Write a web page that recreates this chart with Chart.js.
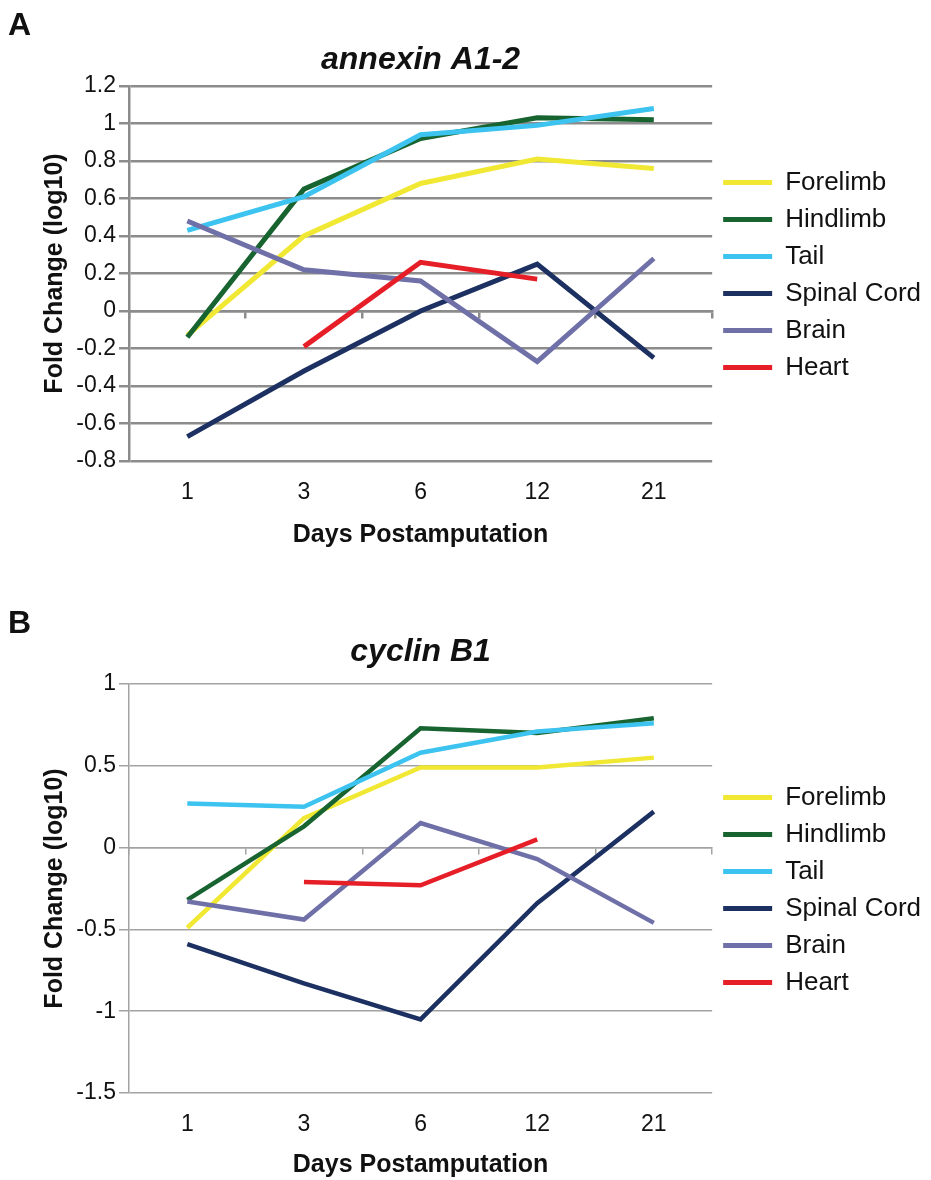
<!DOCTYPE html>
<html>
<head>
<meta charset="utf-8">
<title>annexin A1-2 / cyclin B1</title>
<script src="https://cdn.jsdelivr.net/npm/chart.js@4.4.1/dist/chart.umd.min.js"></script>
<style>
  html, body { margin: 0; padding: 0; background: #fff; overflow: hidden; }
  #page { position: relative; width: 931px; height: 1180px; font-family: "Liberation Sans", Arial, sans-serif; }
  .chart-box { position: absolute; left: 0; width: 931px; }
  .panel-letter { position: absolute; left: 8px; font-size: 32px; font-weight: bold; line-height: 1; color: #111; }
</style>
</head>
<body>
<div id="page">
  <div class="chart-box" style="top:0; height:550px"><canvas id="chart-annexin"></canvas></div>
  <div class="chart-box" style="top:600px; height:580px"><canvas id="chart-cyclin"></canvas></div>
  <div class="panel-letter" style="top:8px">A</div>
  <div class="panel-letter" style="top:606px">B</div>
</div>
<script>
// === Data ===
const days = ['1', '3', '6', '12', '21'];
const tissues = ['Forelimb', 'Hindlimb', 'Tail', 'Spinal Cord', 'Brain', 'Heart'];

// annexin A1-2, fold change (log10)
const annexinForelimb   = [-0.13, 0.40, 0.68, 0.81, 0.76];
const annexinHindlimb   = [-0.14, 0.65, 0.92, 1.03, 1.02];
const annexinTail       = [0.43, 0.61, 0.94, 0.99, 1.08];
const annexinSpinalCord = [-0.67, -0.32, 0.00, 0.25, -0.25];
const annexinBrain      = [0.48, 0.22, 0.16, -0.27, 0.28];
const annexinHeart      = [null, -0.19, 0.26, 0.17, null];
const annexinYTicks     = [-0.8, -0.6, -0.4, -0.2, 0, 0.2, 0.4, 0.6, 0.8, 1, 1.2];

// cyclin B1, fold change (log10)
const cyclinForelimb   = [-0.49, 0.18, 0.49, 0.49, 0.55];
const cyclinHindlimb   = [-0.32, 0.13, 0.73, 0.70, 0.79];
const cyclinTail       = [0.27, 0.25, 0.58, 0.71, 0.76];
const cyclinSpinalCord = [-0.59, -0.83, -1.05, -0.34, 0.22];
const cyclinBrain      = [-0.33, -0.44, 0.15, -0.07, -0.46];
const cyclinHeart      = [null, -0.21, -0.23, 0.05, null];
const cyclinYTicks     = [-1.5, -1, -0.5, 0, 0.5, 1];

const tissueColors = ['#f0e832', '#186430', '#3cc3f0', '#1c3062', '#6f70a8', '#e61e28'];

Chart.defaults.font.family = '"Liberation Sans", Arial, sans-serif';
Chart.defaults.color = '#111';

function buildChart(canvasId, geneName, series, yTicks, look) {
  const canvas = document.getElementById(canvasId);
  const gridLine = { color: look.gridColor, lineWidth: look.gridWidth };
  const axisBorder = { display: true, color: look.gridColor, width: look.gridWidth };

  return new Chart(canvas, {
    type: 'line',
    data: {
      labels: days,
      datasets: tissues.map((name, i) => ({
        label: name,
        data: series[i],
        borderColor: tissueColors[i],
        backgroundColor: tissueColors[i],
        borderWidth: look.lineWidth,
        pointRadius: 0,
        pointHoverRadius: 0,
        tension: 0,
        order: tissues.length - i, // later series drawn on top
      })),
    },
    options: {
      responsive: true,
      maintainAspectRatio: false,
      animation: false,
      devicePixelRatio: 1,
      layout: { padding: { left: 36, right: 0, top: 0, bottom: 0 } },
      plugins: {
        legend: {
          position: 'right',
          labels: {
            boxWidth: 49,
            boxHeight: 5,
            padding: 11,
            font: { size: 26 },
            sort: (a, b) => a.datasetIndex - b.datasetIndex,
            generateLabels: chart => Chart.defaults.plugins.legend.labels.generateLabels(chart)
              .map(item => ({ ...item, lineWidth: 0 })),
          },
        },
        tooltip: { enabled: false },
      },
      scales: {
        x: {
          type: 'category',
          position: 'bottom',
          offset: true,
          grid: { display: false, drawTicks: false },
          border: { display: false },
          ticks: { font: { size: 23 }, padding: 18, maxRotation: 0 },
          title: {
            display: true,
            text: 'Days Postamputation',
            font: { size: 25, weight: 'bold' },
            padding: { top: 4, bottom: 0 },
          },
          afterFit: s => { s.height = look.bottomHeight; },
        },
        // gene name sits over the plot area like Excel's chart title
        xTop: {
          type: 'category',
          position: 'top',
          offset: true,
          grid: { display: false, drawTicks: false },
          border: { display: false },
          ticks: { display: false },
          title: {
            display: true,
            text: geneName,
            font: { size: 32, weight: 'bold', style: 'italic' },
            padding: { top: look.titlePadTop, bottom: 0 },
          },
          afterFit: s => { s.height = look.topHeight; },
        },
        // horizontal axis crossing at zero, with category tick marks
        xZero: {
          type: 'category',
          position: { y: 0 },
          offset: true,
          grid: { ...gridLine, offset: true, drawOnChartArea: false, drawTicks: true, tickLength: 6 },
          border: axisBorder,
          ticks: { display: false },
        },
        y: {
          min: yTicks[0],
          max: yTicks[yTicks.length - 1],
          afterBuildTicks: s => { s.ticks = yTicks.map(v => ({ value: v })); },
          ticks: { font: { size: 23 }, padding: 3, callback: v => String(Math.round(v * 10) / 10) },
          grid: { ...gridLine, drawTicks: true, tickLength: 10 },
          border: axisBorder,
          title: {
            display: true,
            text: 'Fold Change (log10)',
            font: { size: 25, weight: 'bold' },
            padding: { top: 4, bottom: 4 },
          },
          afterFit: s => { s.width = 93; },
        },
      },
    },
  });
}

buildChart('chart-annexin', 'annexin A1-2',
  [annexinForelimb, annexinHindlimb, annexinTail, annexinSpinalCord, annexinBrain, annexinHeart],
  annexinYTicks,
  { gridColor: '#8c8c8c', gridWidth: 2.5, lineWidth: 5, titlePadTop: 41, topHeight: 86, bottomHeight: 89 });

buildChart('chart-cyclin', 'cyclin B1',
  [cyclinForelimb, cyclinHindlimb, cyclinTail, cyclinSpinalCord, cyclinBrain, cyclinHeart],
  cyclinYTicks,
  { gridColor: '#a3a3a3', gridWidth: 1.5, lineWidth: 4.5, titlePadTop: 33, topHeight: 84, bottomHeight: 87 });
</script>
</body>
</html>
